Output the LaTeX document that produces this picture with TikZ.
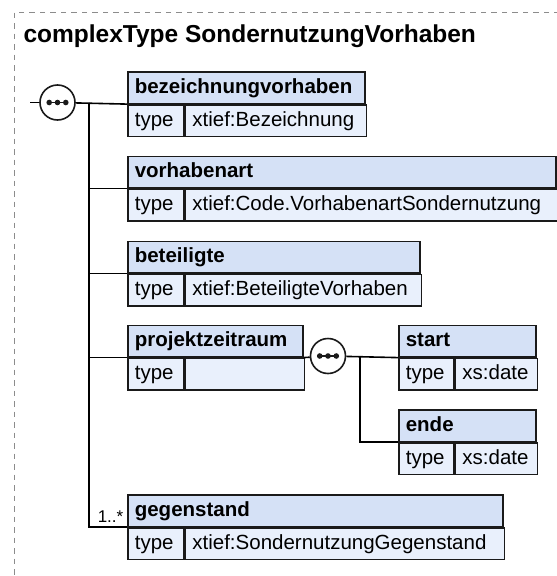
\documentclass[tikz,border=0pt]{standalone}
\usepackage{fontspec}
\setmainfont{Liberation Sans}
\definecolor{xsdhead}{HTML}{D5E1F6}
\definecolor{xsdrow}{HTML}{E9F0FC}
\definecolor{xsdline}{HTML}{1A1A1A}
\definecolor{xsdframe}{HTML}{8C8C8C}
\newcommand\elfont{\fontsize{20.5}{24}\selectfont}
\newcommand\titlefont{\fontsize{24.5}{29}\selectfont\bfseries}
\newcommand\multfont{\fontsize{17}{20}\selectfont}
\tikzset{
  cellbase/.style={draw=xsdline, line width=1.6pt, anchor=north west, minimum height=31.5pt,
    inner xsep=7pt, inner ysep=0pt, text height=15.5pt, text depth=4.5pt, align=left},
  elhead/.style={cellbase, fill=xsdhead, text width=#1, font=\elfont\bfseries},
  elrow/.style={cellbase, fill=xsdrow, text width=#1, font=\elfont},
  seqsym/.style={circle, draw=xsdline, fill=white, line width=1.6pt, minimum size=35pt, inner sep=0pt,
    path picture={
      \draw[xsdline, line width=1.6pt] ([xshift=-10pt]path picture bounding box.center) -- ([xshift=10pt]path picture bounding box.center);
      \foreach \dx in {-8.3,0,8.3} \fill[xsdline] ([xshift=\dx pt]path picture bounding box.center) circle (2.8pt);
    }},
  wire/.style={draw=black, line width=1.6pt}
}
\begin{document}
\begin{tikzpicture}[x=1pt, y=-1pt] %pixel grid, y runs downwards
\useasboundingbox (0,0) rectangle (557,576); %page size of the reference
\draw[xsdframe, line width=1pt, dash pattern=on 5.5pt off 5pt] (14,12.5) rectangle (620,640); %dashed frame, runs off the page
\node[anchor=base west, font=\titlefont] (title) at (20,42) {complexType SondernutzungVorhaben};
% top level sequence
\coordinate (in1) at (30,102.5);
\node[seqsym] (seq1) at (57.5,102.5) {};
\coordinate (fork1) at (89,102.5);
% bezeichnungvorhaben
\node[elhead=223pt] (bezH) at (127,71) {bezeichnungvorhaben};
\node[elrow=42pt] (bezT) at (bezH.south west) {type};
\node[elrow=167pt] (bezV) at (bezT.north east) {xtief:Bezeichnung};
% vorhabenart
\node[elhead=414pt] (vorH) at (127,155.5) {vorhabenart};
\node[elrow=42pt] (vorT) at (vorH.south west) {type};
\node[elrow=358pt] (vorV) at (vorT.north east) {xtief:Code.VorhabenartSondernutzung};
% beteiligte
\node[elhead=278pt] (betH) at (127,240.5) {beteiligte};
\node[elrow=42pt] (betT) at (betH.south west) {type};
\node[elrow=222pt] (betV) at (betT.north east) {xtief:BeteiligteVorhaben};
% projektzeitraum
\node[elhead=161pt] (prjH) at (127,324.5) {projektzeitraum};
\node[elrow=42pt] (prjT) at (prjH.south west) {type};
\node[elrow=105pt] (prjV) at (prjT.north east) {};
% inner sequence
\node[seqsym] (seq2) at (328,356) {};
\coordinate (fork2) at (360,356);
\node[elhead=123pt] (stH) at (398,324.5) {start};
\node[elrow=41pt] (stT) at (stH.south west) {type};
\node[elrow=68pt] (stV) at (stT.north east) {xs:date};
\node[elhead=123pt] (enH) at (398,409) {ende};
\node[elrow=41pt] (enT) at (enH.south west) {type};
\node[elrow=68pt] (enV) at (enT.north east) {xs:date};
% gegenstand
\node[elhead=361pt] (gegH) at (127,494) {gegenstand};
\node[elrow=42pt] (gegT) at (gegH.south west) {type};
\node[elrow=305pt] (gegV) at (gegT.north east) {xtief:SondernutzungGegenstand};
\node[anchor=base east, font=\multfont, inner sep=0pt] (mult) at (123.5,522) {1..*};
% connectors
\draw[wire] (in1) -- (seq1);
\draw[wire] (seq1) -- (bezH.south west);
\draw[wire] (fork1) |- (vorH.south west);
\draw[wire] (fork1) |- (betH.south west);
\draw[wire] (fork1) |- (prjH.south west);
\draw[wire] (fork1) |- (gegH.south west);
\draw[wire] (prjH.south east) -- (seq2);
\draw[wire] (seq2) -- (stH.south west);
\draw[wire] (fork2) |- (enH.south west);
\end{tikzpicture}
\end{document}
